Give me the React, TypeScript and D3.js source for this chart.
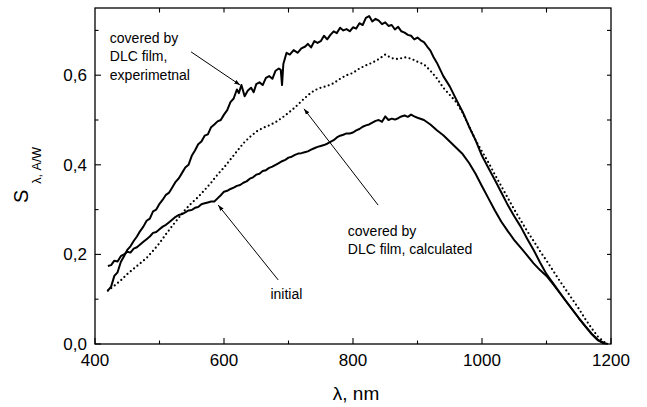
import React from 'react';
import * as d3 from 'd3';

type P = [number, number];

const xTicksMajor = [400, 600, 800, 1000, 1200];
const xTicksMinor = [500, 700, 900, 1100];
const xTicksTop = [500, 600, 700, 800, 900, 1000, 1100];
const yTicksMajor = [0, 0.2, 0.4, 0.6];
const yTicksMinor = [0.1, 0.3, 0.5, 0.7];
const yTicksRight = [0.1, 0.2, 0.3, 0.4, 0.5, 0.6, 0.7];

const experimental: P[] = [
  [420, .119], [425, .128], [430, .152], [435, .160], [440, .183], [445, .196], [450, .210], [455, .218],
  [460, .230], [465, .240], [470, .252], [475, .262], [480, .275], [485, .280], [490, .296], [495, .300],
  [500, .313], [505, .322], [510, .333], [515, .338], [520, .350], [525, .362], [530, .370], [535, .382],
  [540, .394], [545, .400], [550, .420], [555, .432], [560, .446], [565, .452], [570, .465], [575, .468],
  [580, .484], [585, .490], [590, .497], [595, .500], [600, .512], [605, .522], [610, .540], [615, .548],
  [620, .568], [623, .560], [627, .578], [632, .553], [637, .566], [642, .572], [646, .562], [650, .580],
  [655, .584], [660, .578], [665, .594], [670, .598], [675, .592], [680, .610], [685, .615], [688, .612],
  [690, .578], [692, .625], [697, .650], [702, .646], [708, .656], [714, .650], [720, .660], [726, .664],
  [730, .670], [735, .662], [740, .676], [745, .672], [750, .676], [755, .688], [760, .680], [765, .690],
  [770, .698], [775, .694], [780, .706], [785, .700], [790, .703], [795, .698], [800, .707], [805, .704],
  [810, .716], [815, .712], [820, .728], [825, .732], [830, .720], [835, .726], [840, .722], [845, .714],
  [850, .718], [855, .710], [860, .712], [865, .702], [870, .708], [875, .698], [880, .695], [885, .690],
  [890, .688], [895, .680], [900, .684], [905, .678], [910, .674], [915, .664], [920, .655], [925, .640],
  [930, .628], [940, .598], [950, .575], [960, .546], [970, .518], [980, .485], [990, .455], [1000, .420],
  [1010, .393], [1020, .366], [1030, .338], [1040, .310], [1050, .285], [1060, .262], [1070, .235],
  [1080, .210], [1090, .182], [1100, .156], [1110, .136], [1120, .116], [1130, .096], [1140, .077],
  [1150, .058], [1160, .040], [1170, .023], [1180, .009], [1190, .002], [1195, 0],
];

const calculated: P[] = [
  [420, .119], [430, .130], [440, .142], [450, .156], [460, .168], [470, .180], [480, .192], [490, .208],
  [500, .225], [510, .245], [520, .264], [530, .282], [540, .300], [550, .315], [560, .328], [570, .344],
  [580, .360], [590, .378], [600, .394], [610, .412], [620, .430], [630, .448], [640, .462], [650, .474],
  [660, .482], [670, .488], [680, .495], [690, .505], [700, .516], [710, .528], [720, .542], [730, .555],
  [740, .566], [750, .572], [760, .576], [770, .582], [780, .592], [790, .600], [800, .605], [810, .615],
  [820, .622], [830, .628], [840, .636], [850, .646], [860, .638], [870, .636], [880, .640], [890, .637],
  [900, .630], [910, .624], [920, .610], [930, .593], [940, .572], [950, .556], [960, .540], [970, .516],
  [980, .486], [990, .455], [1000, .430], [1010, .405], [1020, .378], [1030, .352], [1040, .326],
  [1050, .300], [1060, .276], [1070, .252], [1080, .230], [1090, .207], [1100, .186], [1110, .164],
  [1120, .142], [1130, .121], [1140, .100], [1150, .079], [1160, .056], [1170, .035], [1180, .016],
  [1190, .004], [1195, 0],
];

const initial: P[] = [
  [420, .174], [425, .176], [430, .186], [435, .184], [440, .196], [445, .200], [450, .206], [455, .204],
  [460, .213], [465, .216], [470, .222], [475, .228], [480, .234], [485, .240], [490, .248], [495, .250],
  [500, .256], [505, .262], [510, .266], [515, .272], [520, .278], [525, .284], [530, .288], [535, .290],
  [540, .294], [545, .298], [550, .299], [555, .304], [560, .306], [565, .312], [570, .314], [575, .316],
  [580, .318], [585, .318], [590, .325], [595, .332], [600, .340], [605, .342], [610, .346], [615, .349],
  [620, .353], [625, .355], [630, .360], [635, .363], [640, .369], [645, .372], [650, .378], [655, .380],
  [660, .386], [665, .388], [670, .393], [675, .396], [680, .400], [685, .404], [690, .408], [695, .411],
  [700, .416], [705, .418], [710, .422], [715, .425], [720, .426], [725, .428], [730, .430], [735, .434],
  [740, .437], [745, .440], [750, .442], [755, .444], [760, .447], [765, .451], [770, .455], [775, .461],
  [780, .465], [785, .467], [790, .470], [795, .470], [800, .472], [805, .477], [810, .480], [815, .485],
  [820, .488], [825, .490], [830, .494], [835, .498], [840, .500], [845, .496], [850, .508], [855, .500],
  [860, .503], [865, .501], [870, .504], [875, .508], [880, .510], [885, .507], [890, .512], [895, .508],
  [900, .505], [910, .500], [920, .490], [930, .477], [940, .466], [950, .452], [960, .438], [970, .424],
  [980, .404], [990, .380], [1000, .352], [1010, .325], [1020, .298], [1030, .273], [1040, .252],
  [1050, .232], [1060, .215], [1070, .198], [1080, .180], [1090, .165], [1100, .152], [1110, .134],
  [1120, .115], [1130, .096], [1140, .077], [1150, .058], [1160, .040], [1170, .022], [1180, .008],
  [1190, 0],
];

// annotations in data coordinates: text lines anchor, arrow from -> to
const annoExpLines = ['covered by', 'DLC film,', 'experimetnal'];
const annoCalcLines = ['covered by', 'DLC film, calculated'];
const annoInitLines = ['initial'];

const FONT = "'Liberation Sans', Arial, Helvetica, sans-serif";

export default function App() {
  const W = 647, H = 407;
  const x = d3.scaleLinear().domain([400, 1200]).range([95, 611]);
  const y = d3.scaleLinear().domain([0, 0.75]).range([344, 8]);
  const line = d3.line<P>().x(d => x(d[0])).y(d => y(d[1]));

  const x0 = x(400), x1 = x(1200), y0 = y(0), y1 = y(0.75);

  const arrows: { from: P; to: P }[] = [
    { from: [549, 0.652], to: [625, 0.578] },
    { from: [839, 0.310], to: [724, 0.525] },
    { from: [684, 0.143], to: [591, 0.310] },
  ];

  return (
    <svg width={W} height={H} style={{ position: 'absolute', left: 0, top: 0, background: '#fff' }}
      fontFamily={FONT}>
      <defs>
        <marker id="ah" viewBox="0 0 10 10" refX="10" refY="5" markerWidth="6" markerHeight="6"
          markerUnits="userSpaceOnUse" orient="auto">
          <path d="M0,1.5 L10,5 L0,8.5 Z" fill="#000" />
        </marker>
      </defs>
      <rect x={0} y={0} width={W} height={H} fill="#fff" />

      {/* curves */}
      <path d={line(initial) || ''} fill="none" stroke="#000" strokeWidth={2} strokeLinejoin="round" />
      <path d={line(experimental) || ''} fill="none" stroke="#000" strokeWidth={2} strokeLinejoin="round" />
      <path d={line(calculated) || ''} fill="none" stroke="#000" strokeWidth={2.2}
        strokeDasharray="0 4.3" strokeLinecap="round" />

      {/* frame */}
      <rect x={x0} y={y1} width={x1 - x0} height={y0 - y1} fill="none" stroke="#000" strokeWidth={1.3} />

      {/* bottom ticks */}
      {xTicksMajor.map(t => (
        <line key={'xb' + t} x1={x(t)} x2={x(t)} y1={y0} y2={y0 - 6} stroke="#000" strokeWidth={1.1} />
      ))}
      {xTicksMinor.map(t => (
        <line key={'xbm' + t} x1={x(t)} x2={x(t)} y1={y0} y2={y0 - 3.5} stroke="#000" strokeWidth={1.1} />
      ))}
      {xTicksTop.map(t => (
        <line key={'xt' + t} x1={x(t)} x2={x(t)} y1={y1} y2={y1 + 4.5} stroke="#000" strokeWidth={1.1} />
      ))}
      {yTicksMajor.map(t => (
        <line key={'yl' + t} x1={x0} x2={x0 + 6} y1={y(t)} y2={y(t)} stroke="#000" strokeWidth={1.1} />
      ))}
      {yTicksMinor.map(t => (
        <line key={'ylm' + t} x1={x0} x2={x0 + 3.5} y1={y(t)} y2={y(t)} stroke="#000" strokeWidth={1.1} />
      ))}
      {yTicksRight.map(t => (
        <line key={'yr' + t} x1={x1} x2={x1 - 4} y1={y(t)} y2={y(t)} stroke="#000" strokeWidth={1.1} />
      ))}

      {/* tick labels */}
      {xTicksMajor.map(t => (
        <text key={'xl' + t} x={x(t)} y={366} fontSize={17} textAnchor="middle" fill="#000">{t}</text>
      ))}
      {yTicksMajor.map(t => (
        <text key={'ylb' + t} x={87} y={y(t) + 6} fontSize={17} textAnchor="end" fill="#000">
          {d3.format('.1f')(t).replace('.', ',')}
        </text>
      ))}

      {/* axis titles */}
      <text x={356} y={400} fontSize={19} textAnchor="middle" fill="#000">λ, nm</text>
      <text transform="translate(28,203) rotate(-90)" fill="#000">
        <tspan fontSize={20}>S</tspan>
        <tspan fontSize={12.5} dx={6} dy={13}>λ, A/W</tspan>
      </text>

      {/* annotations */}
      {annoExpLines.map((s, i) => (
        <text key={'ae' + i} x={x(423)} y={y(0.672) + i * 18.5} fontSize={14} fill="#000">{s}</text>
      ))}
      {annoCalcLines.map((s, i) => (
        <text key={'ac' + i} x={x(792)} y={y(0.241) + i * 17.5} fontSize={14} fill="#000">{s}</text>
      ))}
      {annoInitLines.map((s, i) => (
        <text key={'ai' + i} x={x(672)} y={y(0.1)} fontSize={14} fill="#000">{s}</text>
      ))}
      {arrows.map((a, i) => (
        <line key={'ar' + i} x1={x(a.from[0])} y1={y(a.from[1])} x2={x(a.to[0])} y2={y(a.to[1])}
          stroke="#000" strokeWidth={1} markerEnd="url(#ah)" />
      ))}
    </svg>
  );
}
